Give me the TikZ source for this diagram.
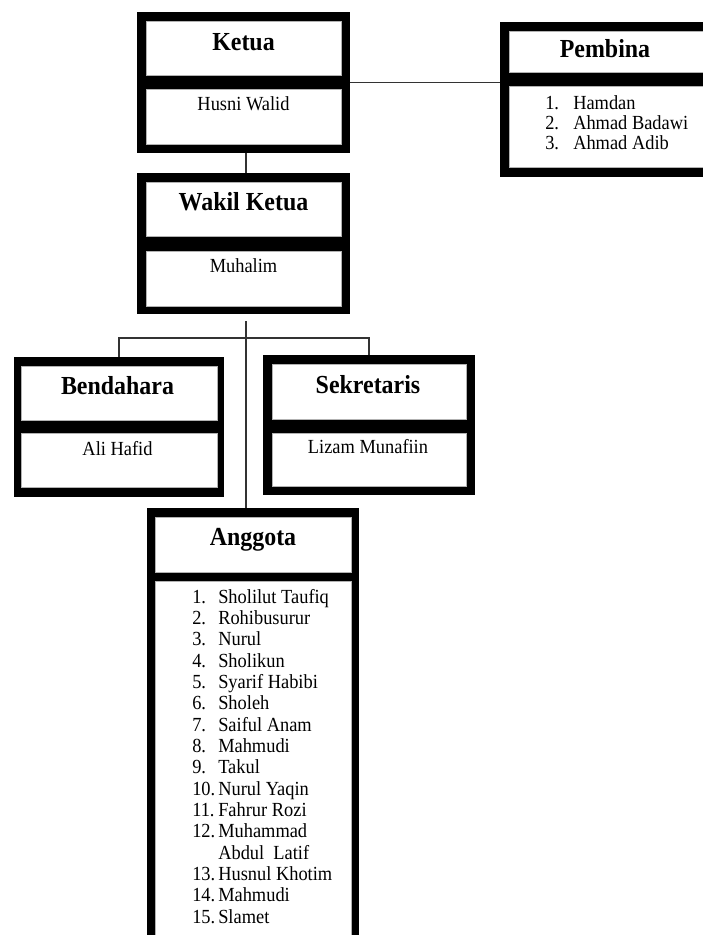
\documentclass[tikz,border=0pt]{standalone}
\usepackage{fontspec}
\setmainfont{Liberation Serif}[FakeStretch=0.92]
\usetikzlibrary{calc}
\newcommand\pxl[1]{#1*0.75pt}
\begin{document}
\begin{tikzpicture}[x=0.75pt,y=-0.75pt,
  frame/.style={fill=black,draw=none,inner sep=0pt,outer sep=0pt},
  cell/.style={fill=white,draw=gray!60,line width=0.6pt,inner sep=0pt,outer sep=0pt},
  ttl/.style={font=\fontsize{19.5}{22}\selectfont\bfseries,anchor=base,inner sep=0pt},
  txt/.style={font=\fontsize{15}{16}\selectfont,anchor=base,inner sep=0pt},
  lst/.style={anchor=base west,inner sep=0pt,align=left},
  conn/.style={draw=black!80,line width=0.9pt}]
\useasboundingbox (0,0) rectangle (703,935);
\clip (0,0) rectangle (703,935);

% ---------- Ketua ----------
\node[frame,minimum width=\pxl{213},minimum height=\pxl{141}] (ketua) at (243.5,82.5) {};
\node[cell,minimum width=\pxl{195},minimum height=\pxl{54}] (ketuaT) at (243.5,48) {};
\node[cell,minimum width=\pxl{195},minimum height=\pxl{55}] (ketuaB) at (243.5,116.5) {};
\node[ttl] (ketuaTl) at (243.5,50) {Ketua};
\node[txt] (ketuaBl) at (243.5,110) {Husni Walid};

% ---------- Pembina ----------
\node[frame,minimum width=\pxl{212},minimum height=\pxl{155}] (pembina) at (606,99.5) {};
\node[cell,minimum width=\pxl{194},minimum height=\pxl{41}] (pembinaT) at (606,51.5) {};
\node[cell,minimum width=\pxl{194},minimum height=\pxl{81}] (pembinaB) at (606,126.5) {};
\node[ttl] (pembinaTl) at (605,57) {Pembina};
\node[lst] (pembinaBl) at (545,109) {\fontsize{15}{15}\selectfont
  \begin{tabular}[t]{@{}p{21pt}@{}l@{}}
  1. & Hamdan\\
  2. & Ahmad Badawi\\
  3. & Ahmad Adib
  \end{tabular}};

% ---------- Wakil Ketua ----------
\node[frame,minimum width=\pxl{213},minimum height=\pxl{141}] (wakil) at (243.5,243.5) {};
\node[cell,minimum width=\pxl{195},minimum height=\pxl{54}] (wakilT) at (243.5,209) {};
\node[cell,minimum width=\pxl{195},minimum height=\pxl{55}] (wakilB) at (243.5,278.5) {};
\node[ttl] (wakilTl) at (243.5,210) {Wakil Ketua};
\node[txt] (wakilBl) at (243.5,272) {Muhalim};

% ---------- Bendahara ----------
\node[frame,minimum width=\pxl{210},minimum height=\pxl{140}] (bendahara) at (119,427) {};
\node[cell,minimum width=\pxl{196},minimum height=\pxl{54}] (bendaharaT) at (119,393) {};
\node[cell,minimum width=\pxl{196},minimum height=\pxl{54}] (bendaharaB) at (119,460) {};
\node[ttl] (bendaharaTl) at (117.5,394) {Bendahara};
\node[txt] (bendaharaBl) at (117.5,455) {Ali Hafid};

% ---------- Sekretaris ----------
\node[frame,minimum width=\pxl{212},minimum height=\pxl{140}] (sekretaris) at (369,425) {};
\node[cell,minimum width=\pxl{194},minimum height=\pxl{55}] (sekretarisT) at (369.5,391.5) {};
\node[cell,minimum width=\pxl{194},minimum height=\pxl{53}] (sekretarisB) at (369.5,459.5) {};
\node[ttl] (sekretarisTl) at (368,393) {Sekretaris};
\node[txt] (sekretarisBl) at (368,453) {Lizam Munafiin};

% ---------- Anggota ----------
\node[frame,minimum width=\pxl{212},minimum height=\pxl{452}] (anggota) at (253,734) {};
\node[cell,minimum width=\pxl{196},minimum height=\pxl{55}] (anggotaT) at (253,544.5) {};
\node[cell,minimum width=\pxl{196},minimum height=\pxl{370}] (anggotaB) at (253,766) {};
\node[ttl] (anggotaTl) at (253,545) {Anggota};
\node[lst] (anggotaBl) at (192,603) {\fontsize{15}{16}\selectfont
  \begin{tabular}[t]{@{}p{19.5pt}@{}l@{}}
  1. & Sholilut Taufiq\\
  2. & Rohibusurur\\
  3. & Nurul\\
  4. & Sholikun\\
  5. & Syarif Habibi\\
  6. & Sholeh\\
  7. & Saiful Anam\\
  8. & Mahmudi\\
  9. & Takul\\
  10. & Nurul Yaqin\\
  11. & Fahrur Rozi\\
  12. & Muhammad\\
      & Abdul~ Latif\\
  13. & Husnul Khotim\\
  14. & Mahmudi\\
  15. & Slamet
  \end{tabular}};

% ---------- connectors ----------
\coordinate (spine) at (246,0);
\coordinate (wakilout) at (246,321);
\coordinate (bar) at (246,338);
\draw[conn] (ketua.east) -- (ketua.east -| pembina.west);
\draw[conn] (spine |- ketua.south) -- (spine |- wakil.north);
\draw[conn] (wakilout) -- (spine |- anggota.north);
\draw[conn] (bendahara.north) -- (bendahara.north |- bar) -- (sekretaris.north |- bar) -- (sekretaris.north);
\end{tikzpicture}
\end{document}
